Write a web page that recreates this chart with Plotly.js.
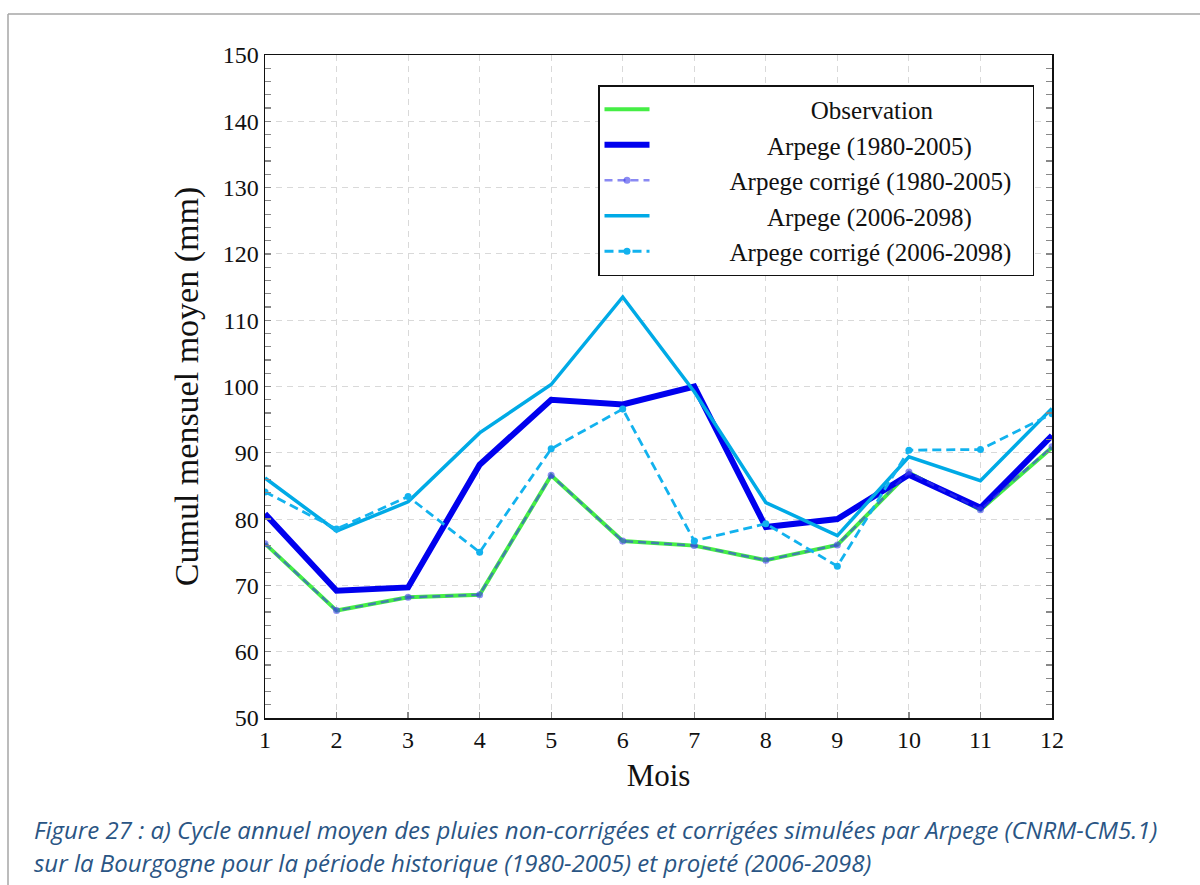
<!DOCTYPE html>
<html>
<head>
<meta charset="utf-8">
<script src="https://cdn.plot.ly/plotly-3.0.1.min.js"></script>
<style>
  html, body { margin: 0; padding: 0; background: #ffffff; }
  #chart { width: 1200px; height: 885px; }
</style>
</head>
<body>
<div id="chart"></div>
<script>
// ---- Data ----
var months = [1, 2, 3, 4, 5, 6, 7, 8, 9, 10, 11, 12];
var observation   = [76.3, 66.2, 68.2, 68.6, 86.6, 76.7, 76.0, 73.8, 76.1, 87.0, 81.4, 90.8];
var arpegeHist    = [80.8, 69.2, 69.7, 88.2, 98.0, 97.3, 100.0, 78.8, 80.0, 86.7, 81.7, 92.6];
var arpegeHistCor = [76.3, 66.2, 68.2, 68.6, 86.6, 76.7, 76.0, 73.8, 76.1, 87.1, 81.4, 90.9];
var arpegeProj    = [86.2, 78.2, 82.6, 93.0, 100.3, 113.5, 99.2, 82.5, 77.5, 89.4, 85.8, 96.7];
var arpegeProjCor = [84.1, 78.5, 83.4, 75.0, 90.6, 96.6, 76.7, 79.3, 72.9, 90.4, 90.5, 95.9];
var seriesNames = [
  "Observation",
  "Arpege (1980-2005)",
  "Arpege corrigé (1980-2005)",
  "Arpege (2006-2098)",
  "Arpege corrigé (2006-2098)"
];
var yTickVals = [50, 60, 70, 80, 90, 100, 110, 120, 130, 140, 150];
var xTitle = "Mois";
var yTitle = "Cumul mensuel moyen (mm)";
var captionLines = [
  "Figure 27 : a) Cycle annuel moyen des pluies non-corrigées et corrigées simulées par Arpege (CNRM-CM5.1)",
  "sur la Bourgogne pour la période historique (1980-2005) et projeté (2006-2098)"
];

// ---- Legend label centering (pad with non-breaking spaces) ----
var serif = "Liberation Serif, Times New Roman, serif";
var legendFontSize = 25;
var cv = document.createElement("canvas").getContext("2d");
cv.font = legendFontSize + "px 'Liberation Serif'";
var nb = "\u00a0";
var nbW = cv.measureText(nb).width || (legendFontSize * 0.25);
var widths = seriesNames.map(function (s) { return cv.measureText(s).width; });
var maxW = Math.max.apply(null, widths);
var leadBase = 12, trailBase = 2;
var labels = seriesNames.map(function (s, i) {
  var half = Math.round((maxW - widths[i]) / 2 / nbW);
  return nb.repeat(leadBase + half) + s + nb.repeat(trailBase + half);
});

// ---- Traces ----
var traces = [
  { x: months, y: observation, name: labels[0], mode: "lines",
    line: { color: "#45ee45", width: 4 } },
  { x: months, y: arpegeHist, name: labels[1], mode: "lines",
    line: { color: "#0000ee", width: 6 } },
  { x: months, y: arpegeHistCor, name: labels[2], mode: "lines+markers",
    line: { color: "rgba(60,60,235,0.6)", width: 2.5, dash: "8px,5px" },
    marker: { color: "rgba(60,60,235,0.6)", size: 7, symbol: "circle" } },
  { x: months, y: arpegeProj, name: labels[3], mode: "lines",
    line: { color: "#00aae6", width: 3.5 } },
  { x: months, y: arpegeProjCor, name: labels[4], mode: "lines+markers",
    line: { color: "#12b2ee", width: 2.8, dash: "9px,5px" },
    marker: { color: "#12b2ee", size: 7, symbol: "circle" } }
];

// ---- Layout helpers (pixel -> paper) ----
var L = 265, R = 1052, T = 55, B = 718;
function px(x) { return (x - L) / (R - L); }
function py(y) { return (B - y) / (B - T); }

var layout = {
  width: 1200, height: 885,
  margin: { l: L, r: 1200 - R, t: T, b: 885 - B, pad: 0 },
  paper_bgcolor: "#ffffff", plot_bgcolor: "#ffffff",
  showlegend: true,
  font: { family: serif, color: "#111111" },
  xaxis: {
    range: [1, 12], tickmode: "array", tickvals: months,
    ticks: "inside", ticklen: 6, tickcolor: "#888888", tickwidth: 1.2,
    showline: true, linecolor: "#111111", linewidth: 1.5, mirror: true,
    showgrid: true, gridcolor: "#d9d9d9", gridwidth: 1, griddash: "6px,5px",
    zeroline: false,
    tickfont: { family: serif, size: 24, color: "#111111" },
    title: { text: xTitle, font: { family: serif, size: 31, color: "#111111" }, standoff: 12 }
  },
  yaxis: {
    range: [50, 150], tickmode: "array", tickvals: yTickVals,
    ticks: "inside", ticklen: 6, tickcolor: "#888888", tickwidth: 1.2,
    minor: { dtick: 2, ticks: "inside", ticklen: 6, tickcolor: "#888888", tickwidth: 1.2, showgrid: false },
    showline: true, linecolor: "#111111", linewidth: 1.5, mirror: "allticks",
    showgrid: true, gridcolor: "#d9d9d9", gridwidth: 1, griddash: "6px,5px",
    zeroline: false,
    tickfont: { family: serif, size: 24, color: "#111111" },
    title: { text: yTitle, font: { family: serif, size: 34, color: "#111111" }, standoff: 14 }
  },
  legend: {
    x: px(598), y: py(85), xanchor: "left", yanchor: "top",
    bgcolor: "#ffffff", bordercolor: "#111111", borderwidth: 1.5,
    font: { family: serif, size: legendFontSize, color: "#111111" },
    itemwidth: 45, tracegroupgap: 0
  },
  shapes: [
    { type: "line", xref: "paper", yref: "paper", x0: px(8), x1: px(1200), y0: py(14), y1: py(14),
      line: { color: "#a6a6a6", width: 1.5 } },
    { type: "line", xref: "paper", yref: "paper", x0: px(8), x1: px(8), y0: py(14), y1: py(890),
      line: { color: "#a6a6a6", width: 1.5 } }
  ],
  annotations: captionLines.map(function (t, i) {
    return {
      text: t, xref: "paper", yref: "paper", x: px(32), y: py(829 + i * 33),
      xanchor: "left", yanchor: "middle", showarrow: false, align: "left",
      font: { family: "Open Sans, Noto Sans, sans-serif", size: 24, color: "#2a5584", style: "italic" }
    };
  })
};

Plotly.newPlot("chart", traces, layout, { displayModeBar: false, staticPlot: true });
</script>
</body>
</html>
